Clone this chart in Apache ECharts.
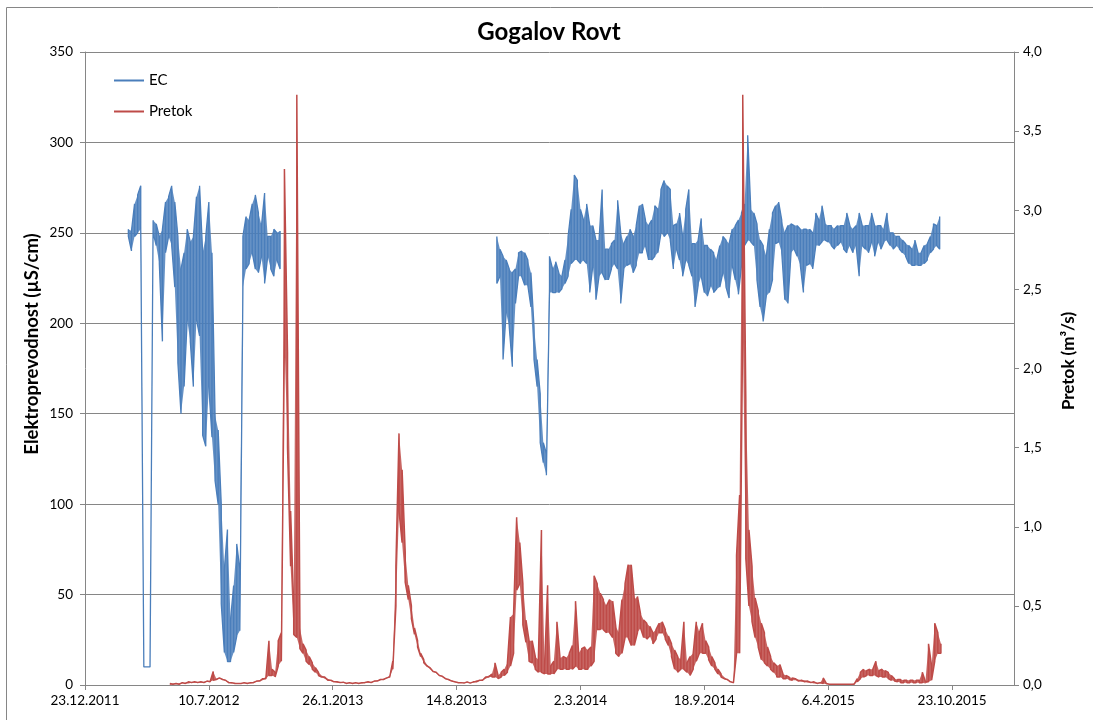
<!DOCTYPE html>
<html><head><meta charset="utf-8">
<script src="https://cdn.jsdelivr.net/npm/echarts@6/dist/echarts.min.js"></script>
<style>html,body{margin:0;padding:0;background:#fff}#c{width:1093px;height:720px}</style>
</head><body><div id="c"></div>
<script>
// ---- axis / tick settings ----
const baseDateUTC = Date.UTC(2011, 11, 23);   // day 0 = 23.12.2011
const xMinDay = 0, xMaxDay = 1500, xStepDay = 200, xLastLabelDay = 1400;
const ecTicks = [0, 350, 50];
const flowTicks = [0, 4, 0.5];
const sampleStepDays = 5;

// ---- EC (µS/cm), sampled every 5 days: upper / lower envelope ----
const ecSeg1StartDay = 70;
const ecSeg1Hi = [252,251,266,271,276,10,10,10,257,255,248,252,267,270,276,267,248,230,239,252,245,248,270,276,239,248,267,239,149,141,100,64,86,36,55,78,64,248,259,257,266,271,261,254,272,248,248,252,250,251];
const ecSeg1Lo = [248,240,248,250,252,10,10,10,250,243,233,190,239,248,243,220,178,150,165,202,190,165,202,193,138,132,165,137,113,100,45,18,13,13,18,27,30,220,230,233,239,230,228,237,222,237,230,226,235,230];
const ecSeg2StartDay = 665;
const ecSeg2Hi = [248,241,237,235,230,228,230,239,240,239,235,228,198,180,161,134,128,237,230,234,228,226,235,248,263,282,279,263,257,266,254,254,246,246,274,241,241,244,246,268,250,244,248,252,248,254,265,266,257,254,257,265,263,274,279,276,274,254,255,261,248,263,274,244,244,246,258,243,243,241,239,235,243,248,246,244,252,254,257,261,266,304,263,261,255,246,243,237,252,261,265,267,257,250,254,255,254,254,252,252,252,252,250,261,257,265,255,254,254,252,254,254,254,261,254,252,254,261,254,254,254,261,254,254,254,252,261,250,250,248,248,246,244,243,241,246,239,239,243,244,248,255,254,259];
const ecSeg2Lo = [222,226,180,206,198,176,211,226,226,221,221,209,180,165,134,123,116,217,217,217,217,219,222,226,233,235,235,233,235,233,217,232,213,226,228,224,224,230,233,230,211,230,232,233,228,232,239,239,243,235,235,237,239,250,248,250,246,230,241,235,226,235,232,226,209,221,226,217,215,221,217,219,220,228,220,214,232,224,216,232,243,246,245,243,224,209,201,215,217,224,244,245,239,213,211,239,241,237,232,217,232,233,230,243,243,245,246,245,243,241,243,245,241,239,243,239,243,226,243,241,239,245,237,245,241,245,246,243,241,243,241,239,237,233,232,232,232,232,233,235,239,241,243,241];

// ---- Pretok (m3/s), sampled every 5 days: upper / lower envelope ----
const flowStartDay = 137;
const flowHi = [0.01,0.01,0.01,0.01,0.015,0.015,0.02,0.02,0.02,0.02,0.02,0.02,0.025,0.025,0.085,0.04,0.045,0.04,0.03,0.02,0.015,0.015,0.01,0.01,0.015,0.015,0.015,0.02,0.025,0.03,0.04,0.05,0.28,0.1,0.08,0.28,0.33,3.26,2.1,1.1,0.5,3.73,0.36,0.26,0.22,0.18,0.14,0.11,0.08,0.06,0.05,0.04,0.03,0.025,0.02,0.02,0.018,0.015,0.015,0.015,0.015,0.015,0.015,0.02,0.02,0.02,0.025,0.03,0.035,0.04,0.045,0.06,0.15,0.75,1.59,1.36,0.84,0.63,0.5,0.36,0.28,0.2,0.16,0.13,0.11,0.09,0.08,0.065,0.055,0.045,0.035,0.03,0.02,0.02,0.015,0.015,0.02,0.015,0.02,0.03,0.03,0.035,0.05,0.06,0.07,0.14,0.06,0.08,0.1,0.14,0.43,0.45,1.06,0.9,0.64,0.41,0.28,0.28,0.18,0.16,0.98,0.12,0.63,0.12,0.15,0.4,0.17,0.18,0.17,0.2,0.25,0.53,0.2,0.23,0.24,0.22,0.24,0.69,0.64,0.58,0.54,0.5,0.54,0.53,0.37,0.33,0.54,0.64,0.76,0.76,0.54,0.56,0.45,0.41,0.39,0.37,0.33,0.35,0.39,0.4,0.35,0.31,0.26,0.22,0.18,0.16,0.4,0.14,0.18,0.2,0.4,0.33,0.39,0.28,0.24,0.18,0.14,0.1,0.07,0.05,0.035,0.025,0.015,0.82,1.2,3.73,1.8,0.98,0.75,0.55,0.47,0.39,0.33,0.24,0.18,0.14,0.12,0.13,0.07,0.06,0.05,0.045,0.04,0.035,0.03,0.03,0.025,0.02,0.02,0.015,0.015,0.045,0.01,0.005,0.005,0.005,0.005,0.005,0.005,0.005,0.005,0.01,0.04,0.08,0.1,0.09,0.1,0.1,0.15,0.09,0.1,0.09,0.08,0.06,0.04,0.035,0.035,0.03,0.03,0.03,0.03,0.03,0.03,0.08,0.02,0.26,0.12,0.39,0.33,0.26];
const flowLo = [0,0.005,0.005,0.005,0.01,0.01,0.01,0.015,0.015,0.015,0.015,0.015,0.02,0.02,0.03,0.035,0.04,0.035,0.025,0.015,0.01,0.01,0.01,0.01,0.01,0.01,0.01,0.015,0.02,0.025,0.03,0.04,0.06,0.06,0.05,0.12,0.15,2.2,1.5,0.75,0.32,0.3,0.23,0.2,0.15,0.13,0.1,0.08,0.06,0.05,0.04,0.03,0.025,0.02,0.015,0.015,0.012,0.01,0.01,0.01,0.01,0.01,0.01,0.015,0.015,0.015,0.02,0.025,0.03,0.035,0.04,0.05,0.1,0.5,1.1,0.9,0.65,0.54,0.42,0.32,0.24,0.18,0.14,0.12,0.1,0.085,0.075,0.06,0.05,0.04,0.03,0.025,0.018,0.015,0.012,0.012,0.015,0.012,0.015,0.02,0.025,0.03,0.04,0.05,0.05,0.05,0.04,0.05,0.06,0.08,0.12,0.2,0.6,0.64,0.38,0.27,0.15,0.14,0.1,0.08,0.08,0.07,0.07,0.07,0.07,0.1,0.1,0.1,0.1,0.1,0.1,0.12,0.1,0.1,0.1,0.1,0.12,0.15,0.35,0.35,0.35,0.33,0.33,0.3,0.2,0.18,0.2,0.3,0.3,0.25,0.25,0.33,0.36,0.3,0.29,0.31,0.26,0.29,0.33,0.33,0.29,0.25,0.18,0.1,0.08,0.1,0.1,0.08,0.06,0.1,0.15,0.2,0.2,0.2,0.16,0.12,0.1,0.07,0.05,0.04,0.03,0.02,0.01,0.2,0.2,2.3,0.8,0.5,0.4,0.3,0.24,0.16,0.14,0.12,0.1,0.08,0.05,0.05,0.04,0.04,0.035,0.03,0.03,0.025,0.02,0.02,0.015,0.015,0.01,0.01,0.01,0.01,0.005,0.005,0.005,0.005,0.005,0.005,0.005,0.005,0.005,0.005,0.02,0.04,0.05,0.06,0.06,0.06,0.06,0.05,0.05,0.05,0.04,0.03,0.025,0.02,0.015,0.015,0.015,0.015,0.015,0.015,0.015,0.015,0.01,0.02,0.03,0.15,0.2,0.2];

const seriesNames = ['EC', 'Pretok'];
const seriesColors = ['#4A7EBB', '#BE4B48'];
const titleText = 'Gogalov Rovt';
const ecAxisTitle = 'Elektroprevodnost (µS/cm)';
const flowAxisTitle = 'Pretok (m³/s)';

const ecSegments = [[ecSeg1StartDay, ecSeg1Hi, ecSeg1Lo], [ecSeg2StartDay, ecSeg2Hi, ecSeg2Lo]];
const flowSegments = [[flowStartDay, flowHi, flowLo]];

// zig-zag polyline running between the envelopes (dense noisy trace)
function envelope(startDay, hi, lo) {
  const pts = [];
  for (let i = 0; i < hi.length; i++) {
    const d = startDay + i * sampleStepDays;
    if (i % 2 === 0) { pts.push([d, hi[i]], [d, lo[i]]); }
    else { pts.push([d, lo[i]], [d, hi[i]]); }
  }
  return pts;
}
function lineData(segments) {
  let out = [];
  segments.forEach((s, k) => {
    if (k > 0) out.push([null, null]);
    out = out.concat(envelope(s[0], s[1], s[2]));
  });
  return out;
}
// filled band between envelopes, drawn through the axes
function bandSeries(segments, color, yAxisIndex) {
  return {
    type: 'custom', yAxisIndex: yAxisIndex, silent: true, clip: true, z: yAxisIndex === 0 ? 1 : 3,
    data: segments.map(s => [s[0], s[2][0]]),
    renderItem: function (params, api) {
      const s = segments[params.dataIndex];
      const top = [], bot = [];
      for (let i = 0; i < s[1].length; i++) {
        const d = s[0] + i * sampleStepDays;
        top.push(api.coord([d, s[1][i]]));
        bot.unshift(api.coord([d, s[2][i]]));
      }
      return {type: 'polygon', shape: {points: top.concat(bot)}, style: {fill: color, opacity: 0.85}};
    }
  };
}

function dayLabel(v) {
  if (v > xLastLabelDay) return '';
  const d = new Date(baseDateUTC + v * 86400000);
  return d.getUTCDate() + '.' + (d.getUTCMonth() + 1) + '.' + d.getUTCFullYear();
}

const FONT = 'Lato';
const axisGray = '#868686';
const chart = echarts.init(document.getElementById('c'), null, {renderer: 'canvas'});
chart.setOption({
  animation: false,
  backgroundColor: '#fff',
  grid: {left: 85, right: 79, top: 52, bottom: 35, containLabel: false},
  legend: {
    orient: 'vertical', left: 109, top: 68, itemWidth: 30, itemHeight: 2, itemGap: 16,
    icon: 'rect', itemStyle: {borderWidth: 0},
    textStyle: {fontFamily: FONT, fontSize: 15, color: '#000'},
    data: seriesNames
  },
  xAxis: {
    type: 'value', min: xMinDay, max: xMaxDay, interval: xStepDay,
    axisLine: {show: true, lineStyle: {color: axisGray, width: 1}},
    axisTick: {show: true, length: 5, lineStyle: {color: axisGray}},
    splitLine: {show: false},
    axisLabel: {formatter: dayLabel, fontFamily: FONT, fontSize: 13.5, color: '#000', margin: 9, showMaxLabel: false}
  },
  yAxis: [{
    type: 'value', min: ecTicks[0], max: ecTicks[1], interval: ecTicks[2], position: 'left',
    axisLine: {show: true, lineStyle: {color: axisGray, width: 1}},
    axisTick: {show: true, length: 5, lineStyle: {color: axisGray}},
    splitLine: {show: true, lineStyle: {color: axisGray, width: 1}},
    axisLabel: {fontFamily: FONT, fontSize: 13.5, color: '#000', margin: 12}
  }, {
    type: 'value', min: flowTicks[0], max: flowTicks[1], interval: flowTicks[2], position: 'right',
    axisLine: {show: true, lineStyle: {color: axisGray, width: 1}},
    axisTick: {show: true, length: 5, lineStyle: {color: axisGray}},
    splitLine: {show: false},
    axisLabel: {fontFamily: FONT, fontSize: 13.5, color: '#000', margin: 9,
      formatter: v => v.toFixed(1).replace('.', ',')}
  }],
  graphic: [
    {type: 'rect', shape: {x: 6.5, y: 7.5, width: 1200, height: 800}, style: {fill: 'none', stroke: axisGray, lineWidth: 1}, silent: true},
    {type: 'text', x: 549, y: 32, style: {text: titleText, font: 'bold 24px Lato', fill: '#000', textAlign: 'center', textVerticalAlign: 'middle'}},
    {type: 'text', x: 32, y: 344, rotation: Math.PI / 2, style: {text: ecAxisTitle, font: 'bold 18.5px Lato', fill: '#000', textAlign: 'center', textVerticalAlign: 'middle'}},
    {type: 'text', x: 1069, y: 361, rotation: Math.PI / 2, style: {text: flowAxisTitle, font: 'bold 17px Lato', fill: '#000', textAlign: 'center', textVerticalAlign: 'middle'}}
  ],
  series: [
    bandSeries(ecSegments, seriesColors[0], 0),
    {
      name: seriesNames[0], type: 'line', yAxisIndex: 0, data: lineData(ecSegments), showSymbol: false, symbol: 'none',
      connectNulls: false, lineStyle: {color: seriesColors[0], width: 1.3}, itemStyle: {color: seriesColors[0]}, z: 2
    },
    bandSeries(flowSegments, seriesColors[1], 1),
    {
      name: seriesNames[1], type: 'line', yAxisIndex: 1, data: lineData(flowSegments), showSymbol: false, symbol: 'none',
      lineStyle: {color: seriesColors[1], width: 1.5}, itemStyle: {color: seriesColors[1]}, z: 4
    }
  ]
});
</script></body></html>
